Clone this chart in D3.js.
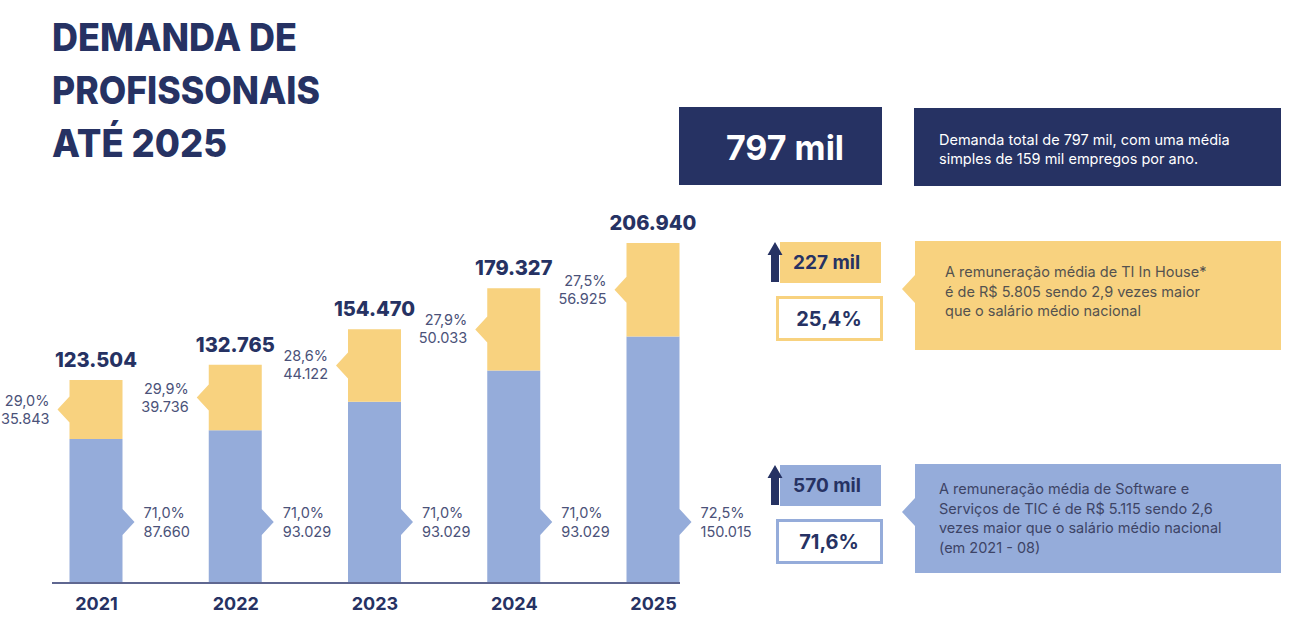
<!DOCTYPE html>
<html>
<head>
<meta charset="utf-8">
<script src="https://cdn.jsdelivr.net/npm/d3@7"></script>
<style>
  html, body { margin: 0; padding: 0; background: #fff; }
  svg { display: block; font-family: Inter, "Noto Sans", sans-serif; }
</style>
</head>
<body>
<div id="chart"></div>
<script>
// --- data ---
const years = ["2021", "2022", "2023", "2024", "2025"];
const totals = [123504, 132765, 154470, 179327, 206940];
const inHouse = [35843, 39736, 44122, 50033, 56925];          // yellow (TI In House)
const software = [87660, 93029, 110348, 129294, 150015];      // blue (Software e Serviços de TIC)
const inHousePct = ["29,0%", "29,9%", "28,6%", "27,9%", "27,5%"];
const softwarePct = ["71,0%", "71,0%", "71,0%", "71,0%", "72,5%"];
const inHouseLabels = ["35.843", "39.736", "44.122", "50.033", "56.925"];
const softwareLabels = ["87.660", "93.029", "93.029", "93.029", "150.015"];
const totalLabels = ["123.504", "132.765", "154.470", "179.327", "206.940"];

const titleLines = ["DEMANDA DE", "PROFISSONAIS", "ATÉ 2025"];
const headline = { value: "797 mil", text: ["Demanda total de 797 mil, com uma média", "simples de 159 mil empregos por ano."] };
const callouts = [
  { value: "227 mil", pct: "25,4%", kind: "inhouse",
    text: ["A remuneração média de TI In House*", "é de R$ 5.805 sendo 2,9 vezes maior", "que o salário médio nacional"] },
  { value: "570 mil", pct: "71,6%", kind: "software",
    text: ["A remuneração média de Software e", "Serviços de TIC é de R$ 5.115 sendo 2,6", "vezes maior que o salário médio nacional", "(em 2021 - 08)"] }
];

const W = 1307, H = 638;
const navy = "#263263";
const labelColor = "#4b5279";
const yellow = "#f8d27f";
const blue = "#95acda";

const svg = d3.select("#chart").append("svg")
  .attr("width", W).attr("height", H)
  .attr("viewBox", `0 0 ${W} ${H}`);

// title
svg.append("g").selectAll("text")
  .data(titleLines)
  .join("text")
  .attr("x", 52)
  .attr("y", (d, i) => 51 + i * 53)
  .attr("fill", navy)
  .style("font-size", "38px")
  .style("font-weight", 800)
  .attr("textLength", (d, i) => [245, 268, 175][i])
  .attr("lengthAdjust", "spacingAndGlyphs")
  .text(d => d);

// --- bar chart ---
const x = d3.scalePoint().domain(years).range([96, 653]);
const y = d3.scaleLinear().domain([0, 206940]).range([583, 243]);
const barW = 53;
const notch = 12, notchHalf = 13;
const blueNotchY = y(0) - 61;

const rows = years.map((yr, i) => ({
  year: yr, total: totals[i], a: inHouse[i], b: software[i],
  aPct: inHousePct[i], bPct: softwarePct[i],
  aLab: inHouseLabels[i], bLab: softwareLabels[i], tLab: totalLabels[i]
}));

const bars = svg.append("g").selectAll("g")
  .data(rows)
  .join("g");

// blue segment with right notch
bars.append("path")
  .attr("fill", blue)
  .attr("d", d => {
    const x0 = x(d.year) - barW / 2, x1 = x0 + barW;
    const top = y(d.b), bot = y(0);
    return `M${x0},${bot}V${top}H${x1}V${blueNotchY - notchHalf}` +
      `L${x1 + notch},${blueNotchY}L${x1},${blueNotchY + notchHalf}V${bot}Z`;
  });

// yellow segment with left notch
bars.append("path")
  .attr("fill", yellow)
  .attr("d", d => {
    const x0 = x(d.year) - barW / 2, x1 = x0 + barW;
    const top = y(d.b + d.a), bot = y(d.b);
    const mid = (top + bot) / 2;
    return `M${x0},${bot}V${mid + notchHalf}L${x0 - notch},${mid}L${x0},${mid - notchHalf}` +
      `V${top}H${x1}V${bot}Z`;
  });

// yellow labels (left)
bars.append("text")
  .attr("text-anchor", "end")
  .attr("fill", labelColor)
  .style("font-size", "14.5px")
  .each(function(d) {
    const mid = (y(d.b + d.a) + y(d.b)) / 2;
    const tx = x(d.year) - barW / 2 - notch - 8;
    const t = d3.select(this);
    t.append("tspan").attr("x", tx).attr("y", mid - 4).text(d.aPct);
    t.append("tspan").attr("x", tx).attr("y", mid + 14).text(d.aLab);
  });

// blue labels (right)
bars.append("text")
  .attr("fill", labelColor)
  .style("font-size", "14.5px")
  .each(function(d) {
    const tx = x(d.year) + barW / 2 + notch + 9;
    const t = d3.select(this);
    t.append("tspan").attr("x", tx).attr("y", blueNotchY - 4).text(d.bPct);
    t.append("tspan").attr("x", tx).attr("y", blueNotchY + 15).text(d.bLab);
  });

// totals
bars.append("text")
  .attr("x", d => x(d.year))
  .attr("y", d => y(d.total) - 13)
  .attr("text-anchor", "middle")
  .attr("fill", navy)
  .style("font-size", "20px")
  .style("font-weight", 800)
  .text(d => d.tLab);

// baseline
svg.append("line")
  .attr("x1", 52).attr("x2", 680)
  .attr("y1", y(0)).attr("y2", y(0))
  .attr("stroke", "#5f6790").attr("stroke-width", 2);

// year axis
const xAxis = d3.axisBottom(x).tickSize(0).tickPadding(14);
const gx = svg.append("g")
  .attr("transform", `translate(0,${y(0)})`)
  .call(xAxis);
gx.select(".domain").remove();
gx.selectAll("text")
  .attr("fill", navy)
  .style("font-family", "Inter, sans-serif")
  .style("font-size", "18px")
  .style("font-weight", 700);

// --- right panel ---
const panel = svg.append("g");

panel.append("rect")
  .attr("x", 679).attr("y", 107).attr("width", 203).attr("height", 78)
  .attr("fill", navy);
panel.append("text")
  .attr("x", 785).attr("y", 160)
  .attr("text-anchor", "middle")
  .attr("fill", "#fff")
  .style("font-size", "34px")
  .style("font-weight", 700)
  .text(headline.value);

panel.append("rect")
  .attr("x", 914).attr("y", 108).attr("width", 367).attr("height", 78)
  .attr("fill", navy);
panel.append("g").selectAll("text")
  .data(headline.text)
  .join("text")
  .attr("x", 939)
  .attr("y", (d, i) => 145 + i * 19)
  .attr("fill", "#fff")
  .style("font-size", "14.5px")
  .text(d => d);

const calloutTop = [241, 464];
const calloutH = [109, 109];
const colorOf = k => k === "inhouse" ? yellow : blue;

callouts.forEach((c, i) => {
  const g = panel.append("g");
  const top = calloutTop[i];
  const fill = colorOf(c.kind);

  // value box
  g.append("rect")
    .attr("x", 780).attr("y", top + 1).attr("width", 101).attr("height", 41)
    .attr("fill", fill);
  // arrow
  g.append("path")
    .attr("fill", navy)
    .attr("d", `M771,${top + 41}V${top + 14}H767.5L775,${top + 1}L782.5,${top + 14}H779V${top + 41}Z`);
  g.append("text")
    .attr("x", 793).attr("y", top + 28)
    .attr("fill", navy)
    .style("font-size", "19px")
    .style("font-weight", 700)
    .text(c.value);

  // pct box
  g.append("rect")
    .attr("x", 777.5).attr("y", top + 56.5).attr("width", 104).attr("height", 42)
    .attr("fill", "#fff")
    .attr("stroke", fill).attr("stroke-width", 3);
  g.append("text")
    .attr("x", 829).attr("y", top + 85)
    .attr("text-anchor", "middle")
    .attr("fill", navy)
    .style("font-size", "20px")
    .style("font-weight", 700)
    .text(c.pct);

  // description callout with notch
  const bx = 915, bw = 366, bh = calloutH[i];
  const ny = top + 48;
  g.append("path")
    .attr("fill", fill)
    .attr("d", `M${bx},${top}H${bx + bw}V${top + bh}H${bx}V${ny + 14}L${bx - 13},${ny}L${bx},${ny - 14}Z`);
  const startY = c.text.length === 3 ? top + 36 : top + 30;
  g.append("g").selectAll("text")
    .data(c.text)
    .join("text")
    .attr("x", c.kind === "inhouse" ? 945 : 939)
    .attr("y", (d, j) => startY + j * 19.5)
    .attr("fill", c.kind === "inhouse" ? "#54524f" : "#3d4466")
    .style("font-size", "14.5px")
    .text(d => d);
});
</script>
</body>
</html>
